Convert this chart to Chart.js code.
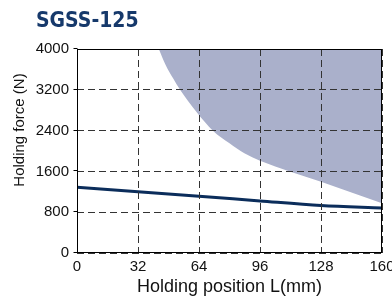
<!DOCTYPE html>
<html><head><meta charset="utf-8">
<script src="https://cdn.jsdelivr.net/npm/chart.js@4"></script>
<style>html,body{margin:0;padding:0;background:#fff}#wrap{width:392px;height:300px;position:relative}</style>
</head><body><div id="wrap"><canvas id="c"></canvas></div>
<script>
const chartTitle = 'SGSS-125';
const xAxisTitle = 'Holding position L(mm)';
const yAxisTitle = 'Holding force (N)';
const xTickValues = [0, 32, 64, 96, 128, 160];
const yTickValues = [0, 800, 1600, 2400, 3200, 4000];
const forceX = [0, 32, 64, 96, 128, 160];
const forceY = [1290, 1200, 1115, 1020, 930, 880];
const regionX = [42.9, 46.5, 50.4, 53.9, 62.6, 71.3, 80, 87.8, 96, 128, 160];
const regionY = [4000, 3686, 3425, 3210, 2771, 2398, 2151, 1955, 1810, 1398, 975];

const toPts = (xs, ys) => xs.map((x, i) => ({x, y: ys[i]}));

const decor = {
  id: 'decor',
  afterDraw(chart) {
    const {ctx, chartArea: a} = chart;
    const ys = chart.scales.y;
    ctx.save();
    ctx.strokeStyle = '#000';
    ctx.lineWidth = 1;
    ctx.setLineDash([]);
    const L = Math.round(a.left) + 0.5, T = Math.round(a.top) + 0.5;
    const R = Math.round(a.right) - 0.5, B = Math.round(a.bottom) - 0.5;
    ctx.strokeRect(L, T, R - L, B - T);
    ctx.beginPath();
    yTickValues.forEach(v => {
      const py = Math.round(ys.getPixelForValue(v)) - 0.5;
      ctx.moveTo(L - 4, py);
      ctx.lineTo(L, py);
    });
    ctx.stroke();
    ctx.fillStyle = '#16396b';
    ctx.font = 'bold 21px "DejaVu Sans Condensed", "Liberation Sans Narrow", Roboto, sans-serif';
    ctx.textBaseline = 'alphabetic';
    ctx.textAlign = 'left';
    ctx.fillText(chartTitle, 36, 27);
    ctx.fillStyle = '#111';
    ctx.font = '15px "Liberation Sans", Arial, sans-serif';
    ctx.translate(20, 130);
    ctx.rotate(-Math.PI / 2);
    ctx.textAlign = 'center';
    ctx.textBaseline = 'middle';
    ctx.fillText(yAxisTitle, 0, 0);
    ctx.restore();
  }
};

new Chart(document.getElementById('c'), {
  type: 'line',
  data: {
    datasets: [
      {
        data: toPts(forceX, forceY),
        borderColor: '#0b2d5b',
        borderWidth: 3,
        pointRadius: 0,
        fill: false,
        cubicInterpolationMode: 'monotone',
        order: 0
      },
      {
        data: toPts(regionX, regionY),
        borderColor: 'rgba(0,0,0,0)',
        borderWidth: 0,
        backgroundColor: '#aab0cb',
        pointRadius: 0,
        fill: 'end',
        cubicInterpolationMode: 'monotone',
        order: 1
      }
    ]
  },
  options: {
    responsive: true,
    maintainAspectRatio: false,
    animation: false,
    layout: {padding: {top: 49, right: 10, left: 0, bottom: 0}},
    plugins: {legend: {display: false}, tooltip: {enabled: false}, title: {display: false}},
    scales: {
      x: {
        type: 'linear', min: 0, max: 160,
        afterBuildTicks: s => { s.ticks = xTickValues.map(v => ({value: v})); },
        afterFit: s => { s.height = 47; s.paddingLeft = 0; s.paddingRight = 0; },
        grid: {color: '#333', lineWidth: 1, drawTicks: false, z: 1},
        border: {display: false, dash: [7, 4]},
        ticks: {padding: 5, color: '#111', font: {family: '"Liberation Sans", Arial, sans-serif', size: 15}, maxRotation: 0, autoSkip: false, callback: v => String(v)},
        title: {display: true, text: xAxisTitle, color: '#111', font: {family: '"Liberation Sans", Arial, sans-serif', size: 18}, padding: {top: 0, bottom: 2}}
      },
      y: {
        type: 'linear', min: 0, max: 4000,
        afterBuildTicks: s => { s.ticks = yTickValues.map(v => ({value: v})); },
        afterFit: s => { s.width = 77; },
        grid: {color: '#333', lineWidth: 1, drawTicks: false, z: 1},
        border: {display: false, dash: [7, 4]},
        ticks: {padding: 8, color: '#111', font: {family: '"Liberation Sans", Arial, sans-serif', size: 15}, autoSkip: false, callback: v => String(v)}
      }
    }
  },
  plugins: [decor]
});
</script>
</body></html>
